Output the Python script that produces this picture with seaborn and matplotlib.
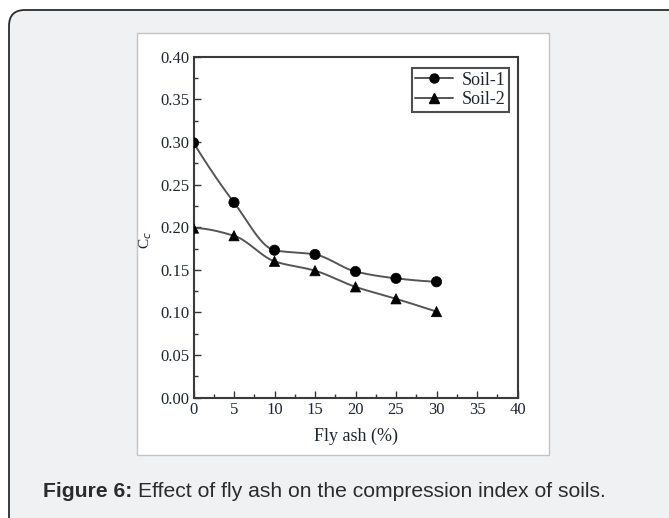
import numpy as np
import pandas as pd
import matplotlib
matplotlib.use("Agg")
import matplotlib.pyplot as plt
from matplotlib.patches import FancyBboxPatch, Rectangle
from matplotlib.lines import Line2D
from matplotlib.ticker import MultipleLocator
import seaborn as sns

# Compression index of two soils versus fly ash content
fly_ash = [0, 5, 10, 15, 20, 25, 30]
soil_1 = [0.299, 0.229, 0.173, 0.168, 0.148, 0.140, 0.136]
soil_2 = [0.199, 0.190, 0.160, 0.149, 0.130, 0.116, 0.101]
series_names = ["Soil-1", "Soil-2"]
x_ticks = [0, 5, 10, 15, 20, 25, 30, 35, 40]
y_ticks = [0.00, 0.05, 0.10, 0.15, 0.20, 0.25, 0.30, 0.35, 0.40]


def pchip(x, y, xs):
    """Shape-preserving piecewise cubic curve through (x, y)."""
    x = np.asarray(x, float)
    y = np.asarray(y, float)
    h = np.diff(x)
    d = np.diff(y) / h
    m = np.zeros_like(y)
    for k in range(1, len(x) - 1):
        if d[k - 1] * d[k] > 0:
            w1 = 2 * h[k] + h[k - 1]
            w2 = h[k] + 2 * h[k - 1]
            m[k] = (w1 + w2) / (w1 / d[k - 1] + w2 / d[k])
    m[0] = ((2 * h[0] + h[1]) * d[0] - h[0] * d[1]) / (h[0] + h[1])
    if np.sign(m[0]) != np.sign(d[0]):
        m[0] = 0
    m[-1] = ((2 * h[-1] + h[-2]) * d[-1] - h[-1] * d[-2]) / (h[-1] + h[-2])
    if np.sign(m[-1]) != np.sign(d[-1]):
        m[-1] = 0
    idx = np.clip(np.searchsorted(x, xs) - 1, 0, len(x) - 2)
    t = (xs - x[idx]) / h[idx]
    h00 = 2 * t**3 - 3 * t**2 + 1
    h10 = t**3 - 2 * t**2 + t
    h01 = -2 * t**3 + 3 * t**2
    h11 = t**3 - t**2
    return h00 * y[idx] + h10 * h[idx] * m[idx] + h01 * y[idx + 1] + h11 * h[idx] * m[idx + 1]


sns.set_theme(style="white")
plt.rcParams["font.family"] = ["Liberation Serif", "DejaVu Serif"]

W, H = 669, 518
fig = plt.figure(figsize=(W / 100, H / 100), dpi=100, facecolor="white")

# Page background: rounded card and white figure panel
bg = fig.add_axes([0, 0, 1, 1], zorder=-10)
bg.set_xlim(0, W)
bg.set_ylim(H, 0)
bg.axis("off")
bg.add_patch(FancyBboxPatch((9, 10), 700, 560, boxstyle="round,pad=0,rounding_size=16",
                            facecolor="#f0f1f3", edgecolor="#2b2b2b", linewidth=1.3))
bg.add_patch(Rectangle((137, 33), 412, 422, facecolor="white", edgecolor="#c4c4c4", linewidth=1.0))

# Plot area
x0, x1, y0, y1 = 193.5, 517.5, 56.7, 397.7
ax = fig.add_axes([x0 / W, (H - y1) / H, (x1 - x0) / W, (y1 - y0) / H])
ax.set_facecolor("white")

xs = np.linspace(0, 30, 301)
curves = pd.concat([
    pd.DataFrame({"x": xs, "y": pchip(fly_ash, soil_1, xs), "s": series_names[0]}),
    pd.DataFrame({"x": xs, "y": pchip(fly_ash, soil_2, xs), "s": series_names[1]}),
])
points = pd.concat([
    pd.DataFrame({"x": fly_ash, "y": soil_1, "s": series_names[0]}),
    pd.DataFrame({"x": fly_ash, "y": soil_2, "s": series_names[1]}),
])

sns.lineplot(data=curves, x="x", y="y", hue="s", palette=["#555555", "#555555"],
             linewidth=1.4, legend=False, ax=ax, zorder=2)
sns.scatterplot(data=points, x="x", y="y", style="s", markers={"Soil-1": "o", "Soil-2": "^"},
                color="black", s=55, edgecolor="black", linewidth=0.5, legend=False, ax=ax, zorder=3)

ax.set_xlim(0, 40)
ax.set_ylim(0, 0.40)
ax.set_xticks(x_ticks)
ax.set_yticks(y_ticks)
ax.set_yticklabels([f"{v:.2f}" for v in y_ticks])
ax.xaxis.set_minor_locator(MultipleLocator(2.5))
ax.yaxis.set_minor_locator(MultipleLocator(0.025))
ax.tick_params(which="both", direction="in", top=False, right=False, left=True, bottom=True,
               colors="#333333", labelcolor="#1e2433", labelsize=12, width=1.0)
ax.tick_params(which="major", length=5, pad=3)
ax.tick_params(which="minor", length=3)
for sp in ax.spines.values():
    sp.set_color("#3a3a3a")
    sp.set_linewidth(1.5)

ax.set_xlabel("Fly ash (%)", fontsize=13, color="#1e2433", labelpad=7)
ax.set_ylabel("")
fig.text(146 / W, (H - 240) / H, "C$_c$", rotation=90, fontsize=11, color="#1e2433",
         ha="center", va="center")

handles = [Line2D([], [], color="#555555", lw=1.4, marker="o", markerfacecolor="black",
                  markeredgecolor="black", markersize=6.5),
           Line2D([], [], color="#555555", lw=1.4, marker="^", markerfacecolor="black",
                  markeredgecolor="black", markersize=6.5)]
leg = ax.legend(handles, series_names, loc="upper right",
                bbox_to_anchor=((509 - x0) / (x1 - x0), (y1 - 68) / (y1 - y0)),
                borderaxespad=0, fontsize=13, frameon=True, fancybox=False,
                handlelength=2.1, handletextpad=0.45, borderpad=0.2, labelspacing=0.15)
leg.get_frame().set_edgecolor("#222222")
leg.get_frame().set_linewidth(1.5)
for t in leg.get_texts():
    t.set_color("#1e2433")

# Caption below the figure panel
cap_y = (H - 497) / H
bold = fig.text(43 / W, cap_y, "Figure 6:", fontsize=15.2, fontweight="bold",
                family=["Liberation Sans", "DejaVu Sans"], color="#2b2b2b", va="baseline")
fig.canvas.draw()
bb = bold.get_window_extent(renderer=fig.canvas.get_renderer())
fig.text((bb.x1 + 6) / W, cap_y, "Effect of fly ash on the compression index of soils.",
         fontsize=15.2, family=["Liberation Sans", "DejaVu Sans"], color="#2b2b2b", va="baseline")

fig.savefig("out.png", dpi=100, facecolor="white")
